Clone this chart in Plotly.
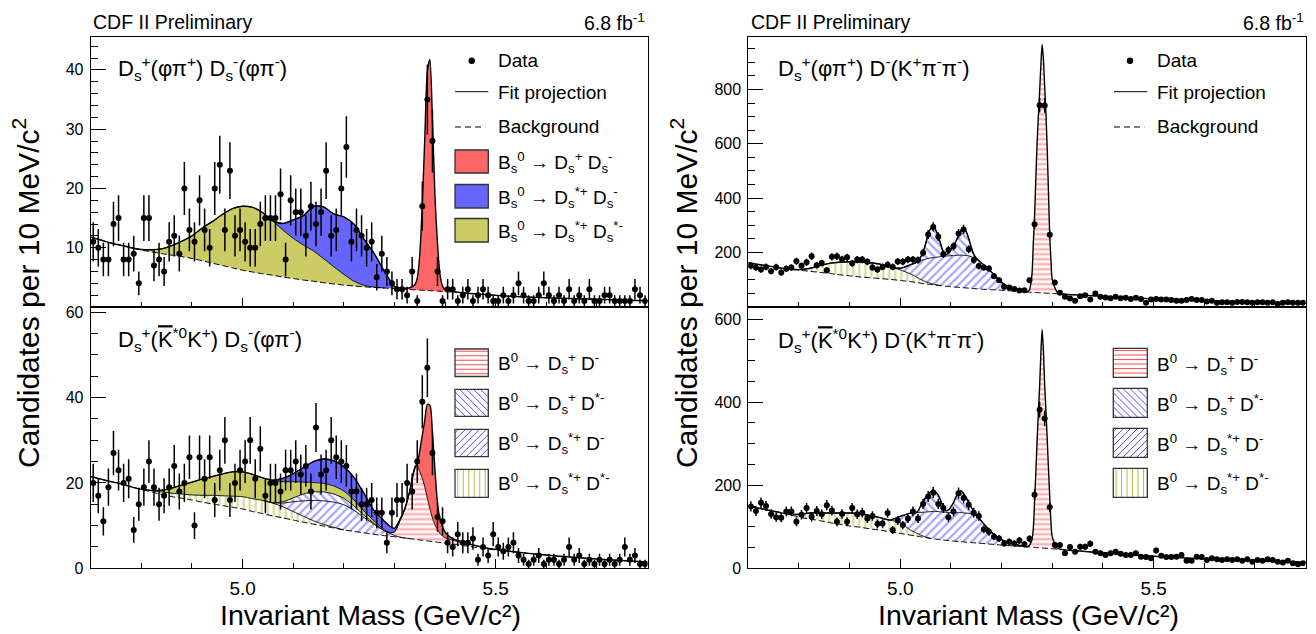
import numpy as np
import plotly.graph_objects as go

W, H = 1316, 634
FONT = "Liberation Sans, Arial, Helvetica, sans-serif"

# ---------------- histogram binning: 10 MeV/c^2 bins, 4.70 - 5.80 GeV/c^2 ----------------
bin_centers = np.round(np.arange(4.705, 5.80, 0.01), 3)

# ---------------- data: candidates per bin ----------------
counts_tl = [11, 10, 8, 8, 14, 15, 8, 8, 9, 4,
             15, 15, 7, 8, 6, 11, 12, 9, 20, 13,
             11, 18, 13, 10, 20, 24, 13, 23, 12, 13,
             11, 10, 10, 14, 15, 15, 15, 19, 8, 18,
             16, 16, 12, 17, 14, 16, 23, 12, 13, 20,
             27, 11, 13, 12, 10, 11, 5, 9, 6, 4,
             3, 3, 2, 6, 1, 17, 35, 28, 6, 1,
             3, 3, 1, 2, 3, 1, 2, 3, 2, 1,
             1, 2, 1, 2, 4, 2, 1, 1, 2, 4,
             2, 1, 2, 1, 3, 1, 2, 1, 3, 1,
             1, 2, 2, 1, 1, 1, 1, 3, 2, 1]
counts_bl = [20, 17, 11, 19, 27, 23, 20, 21, 9, 15,
             19, 25, 19, 15, 17, 19, 24, 18, 20, 26,
             10, 26, 21, 26, 16, 23, 30, 16, 20, 23,
             25, 30, 21, 28, 17, 20, 20, 18, 23, 23,
             25, 22, 24, 18, 33, 22, 23, 30, 26, 25,
             24, 18, 18, 15, 15, 16, 13, 13, 6, 13,
             16, 16, 20, 18, 25, 39, 47, 27, 12, 11,
             6, 5, 8, 6, 6, 7, 2, 5, 3, 8,
             5, 4, 5, 6, 3, 2, 1, 2, 3, 1,
             2, 2, 1, 2, 5, 2, 3, 1, 2, 1,
             2, 1, 2, 1, 2, 5, 2, 3, 1, 1]
counts_tr = [151, 145, 137, 147, 131, 146, 126, 140, 145, 168,
             151, 164, 186, 153, 161, 135, 184, 186, 175, 182,
             160, 174, 174, 166, 145, 137, 147, 155, 147, 167,
             166, 174, 174, 172, 199, 266, 294, 258, 194, 209,
             223, 270, 285, 212, 172, 150, 145, 141, 113, 98,
             74, 71, 66, 60, 61, 98, 304, 742, 741, 265,
             90, 52, 37, 31, 22, 39, 43, 27, 49, 37,
             34, 32, 37, 32, 33, 29, 33, 29, 15, 27,
             29, 27, 27, 25, 22, 22, 25, 29, 25, 25,
             20, 22, 15, 17, 17, 15, 18, 18, 17, 15,
             17, 17, 15, 17, 10, 15, 17, 15, 15, 15]
counts_br = [149, 138, 158, 150, 131, 123, 122, 137, 137, 112,
             129, 145, 124, 138, 130, 152, 139, 112, 131, 112,
             145, 130, 134, 120, 126, 107, 108, 133, 92, 115,
             104, 120, 137, 120, 155, 173, 182, 155, 145, 123,
             137, 181, 169, 153, 134, 126, 94, 88, 76, 72,
             60, 64, 60, 67, 58, 71, 177, 382, 361, 147,
             56, 56, 36, 51, 40, 52, 52, 59, 40, 36,
             32, 36, 40, 35, 32, 32, 36, 28, 27, 24,
             43, 30, 27, 27, 28, 32, 18, 18, 28, 27,
             20, 24, 22, 20, 22, 20, 22, 18, 22, 16,
             20, 18, 22, 20, 16, 14, 18, 12, 10, 12]

# ---------------- fit curves: sampling grids (GeV/c^2) ----------------
grid_tl = np.round(np.concatenate([np.arange(4.70, 5.301, 0.02), np.arange(5.31, 5.341, 0.01),
                                   np.arange(5.345, 5.3951, 0.005), np.arange(5.40, 5.421, 0.01),
                                   np.arange(5.44, 5.801, 0.04)]), 4)
grid_bl = np.round(np.concatenate([np.arange(4.70, 5.281, 0.02), np.arange(5.29, 5.331, 0.01),
                                   np.arange(5.335, 5.3951, 0.005), np.arange(5.40, 5.421, 0.01),
                                   np.arange(5.44, 5.801, 0.04)]), 4)
grid_r = np.round(np.concatenate([np.arange(4.70, 5.021, 0.02), np.arange(5.03, 5.1551, 0.005),
                                  np.arange(5.16, 5.241, 0.02), np.arange(5.25, 5.3001, 0.0025),
                                  np.arange(5.31, 5.321, 0.01), np.arange(5.36, 5.801, 0.04)]), 4)

# ---- top left: Ds(phi pi) Ds(phi pi) ----
bkg_tl = [11.8, 11.3, 10.8, 10.4, 10.0, 9.6, 9.3, 9.0, 8.75, 8.5, 8.2, 7.8, 7.4, 7.0, 6.6, 6.2,
          5.9, 5.6, 5.35, 5.05, 4.8, 4.55, 4.35, 4.1, 3.9, 3.7, 3.55, 3.4, 3.3, 3.2, 3.1,
          3.05, 3.0, 2.95, 2.9,
          2.88, 2.85, 2.83, 2.8, 2.78, 2.75, 2.73, 2.7, 2.68, 2.65, 2.62,
          2.6, 2.55, 2.5,
          2.35, 2.1, 1.85, 1.7, 1.55, 1.45, 1.35, 1.25, 1.15, 1.05]
tl_bs_dsst_dsst_from = 4.78
tl_bs_dsst_dsst = [0, 0.1, 0.35, 0.8, 1.6, 2.6, 3.8, 5.5, 7.0, 8.6, 10.0, 10.8, 10.9, 10.3, 9.1,
                   7.9, 6.8, 5.9, 5.1, 4.05, 2.9, 1.8, 0.8, 0.25, 0.05, 0]
tl_bs_dsst_ds_from = 5.04
tl_bs_dsst_ds = [0, 0.1, 1.15, 3.1, 4.95, 7.55, 8.75, 8.9, 9.7, 9.6, 7.75, 5.65, 2.8, 0.3, 0.05, 0]
tl_bs_ds_ds_from = 5.28
tl_bs_ds_ds = [0.05, 0.1, 0.1, 0.15, 0.3, 0.8, 2.0, 6.0, 14.5, 26.0, 37.0, 39.0, 29.0, 16.0, 8.0,
               2.8, 0.9, 0.35, 0.15, 0.05, 0]

# ---- bottom left: Ds(K*K) Ds(phi pi) ----
bkg_bl = [21.5, 20.9, 20.3, 19.8, 19.1, 18.5, 17.9, 17.3, 16.8, 16.4, 16.0, 15.5, 15.1, 14.7, 14.3,
          13.9, 13.3, 12.8, 12.25, 11.8, 11.3, 10.8, 10.35, 9.9, 9.45, 9.0, 8.65, 8.3, 7.95, 7.65,
          7.52, 7.4, 7.25, 7.1, 6.95,
          6.88, 6.8, 6.72, 6.65, 6.58, 6.5, 6.42, 6.35, 6.28, 6.2, 6.12, 6.05, 5.98,
          5.9, 5.75, 5.6,
          5.25, 4.6, 4.05, 3.55, 3.1, 2.7, 2.35, 2.0, 1.75, 1.5]
bl_b0_dsst_dst_from = 4.80
bl_b0_dsst_dst = [0, 0.3, 0.6, 0.8, 1.0, 1.2, 1.6, 2.0, 2.3, 2.6, 2.9, 3.0, 3.1, 3.0, 2.6, 2.0, 1.4,
                  0.8, 0.4, 0.15, 0]
bl_b0_dsst_d_from = 5.04
bl_b0_dsst_d = [0, 0.1, 0.9, 2.3, 3.6, 4.75, 5.5, 5.9, 5.9, 4.95, 3.6, 2.35, 1.15, 0.7, 0.3, 0.1,
                0.03, 0]
bl_b0_ds_dst_from = 5.06
bl_b0_ds_dst = [0, 0.3, 0.9, 1.6, 2.0, 2.1, 1.9, 1.5, 1.0, 0.5, 0.2, 0]
bl_b0_ds_d_from = 5.28
bl_b0_ds_d = [0, 0.1, 0.8, 3.5, 6.5, 11.0, 14.0, 16.5, 17.3, 16.0, 14.5, 12.5, 10.0, 7.6, 5.5, 4.0,
              2.9, 2.1, 1.6, 1.3, 1.0, 0.8, 0.6, 0.2, 0.05, 0]
bl_bs_dsst_dsst_from = 4.80
bl_bs_dsst_dsst = [0, 0.05, 0.4, 1.2, 2.1, 3.0, 3.8, 4.4, 5.1, 5.7, 5.8, 5.7, 5.3, 5.3, 4.7, 3.8,
                   2.8, 2.2, 2.0, 1.9, 1.7, 1.4, 1.0, 0.6, 0.25, 0.12, 0.05, 0]
bl_bs_dsst_ds_from = 5.06
bl_bs_dsst_ds = [0, 0.8, 1.9, 3.4, 4.9, 5.7, 5.9, 5.7, 5.3, 4.1, 2.4, 2.0, 1.5, 0.8, 0.4, 0.2,
                 0.08, 0.03, 0]
bl_bs_ds_ds_from = 5.33
bl_bs_ds_ds = [0, 0.1, 0.3, 0.6, 4.85, 10.1, 15.8, 22.0, 24.3, 20.0, 12.8, 6.2, 3.35, 2.2, 1.3,
               0.55, 0.3, 0.1, 0]

# ---- top right: Ds(phi pi) D(K pi pi) ----
bkg_tr = [162, 156, 150, 144, 139, 135, 131, 127, 123, 118, 114, 110, 107, 104, 101, 97, 93,
          90, 88.5, 87, 85.7, 84.5, 83.2, 82, 81, 80, 79, 78, 77, 76, 75, 74, 73.2, 72.5, 71.7,
          71, 70.2, 69.5, 68.7, 68, 67.2, 66.5, 65.7,
          65, 63, 61, 58.5, 56,
          54.5, 54.2, 53.9, 53.7, 53.4, 53.1, 52.9, 52.6, 52.3, 52.0, 51.8, 51.5, 51.2, 51.0,
          50.7, 50.4, 50.1, 49.9, 49.6, 49.3, 49.0,
          48, 47,
          43, 39, 35, 31, 28, 25, 22, 20, 18, 16.5, 15.5, 14.5]
tr_b0_dsst_dst_from = 4.78
tr_b0_dsst_dst = [0, 2, 10, 24, 37, 46, 52, 55, 55, 53, 46, 39, 28, 22, 18, 14, 11, 8, 6, 4, 2.5,
                  1.5, 0.7, 0]
tr_b0_dsst_d_from = 4.98
tr_b0_dsst_d = [0, 6, 34, 50, 59.5, 69, 76.3, 83.5, 88.8, 94, 97.5, 100.5, 103.8, 107, 109, 111,
                112.5, 114, 115.8, 117, 118.3, 119, 119.8, 119.5, 118.8, 117, 113.8, 110.5, 104.3,
                97, 65, 29, 8.5, 2, 0]
tr_b0_ds_dst_from = 5.03
tr_b0_ds_dst = [0, 5, 12, 30, 55, 90, 108, 115, 100, 77, 45, 15, 5, 10, 22, 35, 52, 72, 92, 102,
                88, 65, 35, 12, 2, 0]
tr_b0_ds_d_from = 5.25
tr_b0_ds_d = [0, 3, 9, 30, 68, 178, 278, 418, 548, 648, 738, 838, 914, 859, 759, 659, 530, 370,
              210, 120, 50, 5, 0]

# ---- bottom right: Ds(K*K) D(K pi pi) ----
bkg_br = [149, 145, 140, 135, 130, 123, 119, 115, 110, 106, 102, 99, 95, 92, 88, 84, 80,
          78, 77, 76, 75, 74, 73, 72, 71.2, 70.5, 69.8, 69, 68.2, 67.5, 66.8, 66, 65.5, 65, 64.5,
          64, 63.5, 63, 62.5, 62, 61.5, 61, 60.5,
          60, 58, 56, 54, 52.5,
          51.8, 51.6, 51.4, 51.2, 51.0, 50.75, 50.5, 50.25, 50.0, 49.75, 49.5, 49.25, 49.0,
          48.75, 48.5, 48.25, 48.0, 47.75, 47.5, 47.25, 47.0,
          46, 45,
          41, 37, 33.5, 30.5, 27.5, 25, 23, 21, 19, 17.5, 16, 14.5]
br_b0_dsst_dst_from = 4.78
br_b0_dsst_dst = [0, 7, 14, 18, 23, 27, 31, 32, 32, 30, 28, 26, 12, 8, 6, 4, 2.5, 1.5, 0.7, 0]
br_b0_dsst_d_from = 4.98
br_b0_dsst_d = [0, 15, 41, 47.5, 51, 54.5, 57.5, 60, 62.3, 64.5, 65.8, 66.5, 66.7, 67, 67.3,
                67.5, 67.7, 68, 68.5, 69, 69.5, 70, 70, 70, 70, 69.5, 67.5, 65, 60.5,
                54, 29, 13, 6, 1.5, 0]
br_b0_ds_dst_from = 5.03
br_b0_ds_dst = [0, 4, 15, 24, 35, 42, 48, 52, 47, 40, 26, 12, 4, 6, 14, 24, 38, 48, 53, 46, 38,
                26, 16, 8, 3, 0]
br_b0_ds_d_from = 5.25
br_b0_ds_d = [0, 1, 4, 10, 19, 44, 109, 179, 255, 325, 388, 468, 526, 476, 391, 331, 262, 192,
              123, 61, 28, 3, 0]

# ---------------- styles ----------------
RED, BLUE, YELLOW = "#ff6666", "#6666ff", "#cccc66"
HRED, HBLUE, HYELLOW = "#ff4d4d", "#4d4dff", "#b8b840"
SOLID_RED = dict(kind="solid", color=RED)
SOLID_BLUE = dict(kind="solid", color=BLUE)
SOLID_YELLOW = dict(kind="solid", color=YELLOW)
HATCH_RED = dict(kind="-", color=HRED, size=5, sol=0.42)
HATCH_BLUE_BS = dict(kind="\\", color=HBLUE, size=6, sol=0.38)
HATCH_BLUE_FS = dict(kind="/", color=HBLUE, size=6, sol=0.38)
HATCH_YELLOW = dict(kind="|", color=HYELLOW, size=6, sol=0.42)

panels = [
    dict(xa="x", ya="y", grid=grid_tl, bkg=bkg_tl, counts=counts_tl,
         comps=[(tl_bs_dsst_dsst_from, tl_bs_dsst_dsst, SOLID_YELLOW),
                (tl_bs_dsst_ds_from, tl_bs_dsst_ds, SOLID_BLUE),
                (tl_bs_ds_ds_from, tl_bs_ds_ds, SOLID_RED)]),
    dict(xa="x2", ya="y2", grid=grid_bl, bkg=bkg_bl, counts=counts_bl,
         comps=[(bl_b0_dsst_dst_from, bl_b0_dsst_dst, HATCH_YELLOW),
                (bl_b0_dsst_d_from, bl_b0_dsst_d, HATCH_BLUE_FS),
                (bl_b0_ds_dst_from, bl_b0_ds_dst, HATCH_BLUE_BS),
                (bl_b0_ds_d_from, bl_b0_ds_d, HATCH_RED),
                (bl_bs_dsst_dsst_from, bl_bs_dsst_dsst, SOLID_YELLOW),
                (bl_bs_dsst_ds_from, bl_bs_dsst_ds, SOLID_BLUE),
                (bl_bs_ds_ds_from, bl_bs_ds_ds, SOLID_RED)]),
    dict(xa="x3", ya="y3", grid=grid_r, bkg=bkg_tr, counts=counts_tr,
         comps=[(tr_b0_dsst_dst_from, tr_b0_dsst_dst, HATCH_YELLOW),
                (tr_b0_dsst_d_from, tr_b0_dsst_d, HATCH_BLUE_FS),
                (tr_b0_ds_dst_from, tr_b0_ds_dst, HATCH_BLUE_BS),
                (tr_b0_ds_d_from, tr_b0_ds_d, HATCH_RED)]),
    dict(xa="x4", ya="y4", grid=grid_r, bkg=bkg_br, counts=counts_br,
         comps=[(br_b0_dsst_dst_from, br_b0_dsst_dst, HATCH_YELLOW),
                (br_b0_dsst_d_from, br_b0_dsst_d, HATCH_BLUE_FS),
                (br_b0_ds_dst_from, br_b0_ds_dst, HATCH_BLUE_BS),
                (br_b0_ds_d_from, br_b0_ds_d, HATCH_RED)]),
]

SPL = dict(shape="spline", smoothing=0.7)
fig = go.Figure()

for p in panels:
    g = p["grid"]
    bkg = np.array(p["bkg"], dtype=float)
    assert len(bkg) == len(g), (p["xa"], len(bkg), len(g))
    ax = dict(xaxis=p["xa"], yaxis=p["ya"], showlegend=False, hoverinfo="skip")
    fig.add_trace(go.Scatter(x=g, y=bkg, mode="lines", line=dict(width=0, **SPL), **ax))
    level = bkg.copy()
    bounds = []
    for start, vals, sty in p["comps"]:
        i0 = int(np.argmin(np.abs(g - start)))
        comp = np.zeros(len(g))
        comp[i0:i0 + len(vals)] = vals
        level = level + comp
        if sty["kind"] == "solid":
            fill = dict(fillcolor=sty["color"])
        else:
            fill = dict(fillcolor="rgba(0,0,0,0)",
                        fillpattern=dict(shape=sty["kind"], fgcolor=sty["color"],
                                         bgcolor="rgba(0,0,0,0)", size=sty["size"],
                                         solidity=sty["sol"]))
        fig.add_trace(go.Scatter(x=g, y=level.copy(), mode="lines", fill="tonexty",
                                 line=dict(width=0, **SPL), **fill, **ax))
        bounds.append((i0, i0 + len(vals), level.copy()))
    # background (dashed)
    fig.add_trace(go.Scatter(x=g, y=bkg, mode="lines",
                             line=dict(color="black", width=1, dash="6px,3px", **SPL), **ax))
    # component boundaries
    for i0, i1, lev in bounds[:-1]:
        fig.add_trace(go.Scatter(x=g[i0:i1], y=lev[i0:i1], mode="lines",
                                 line=dict(color="black", width=0.9, **SPL), **ax))
    # fit projection
    fig.add_trace(go.Scatter(x=g, y=level, mode="lines",
                             line=dict(color="black", width=1.4, **SPL), **ax))
    # data
    c = np.array(p["counts"], dtype=float)
    fig.add_trace(go.Scatter(x=bin_centers, y=c, mode="markers",
                             marker=dict(color="black", size=6),
                             error_y=dict(type="data", array=np.sqrt(c), visible=True,
                                          color="black", thickness=1.5, width=0), **ax))

# ---------------- axes ----------------
def px_x(x):
    return x / W


def px_y(y):
    return 1 - y / H


XL = [px_x(90.7), px_x(647.6)]
XR = [px_x(748.3), px_x(1305.6)]
YT = [px_y(306.7), px_y(36.7)]
YB = [px_y(568.3), px_y(306.7)]

base = dict(showline=True, mirror=True, linecolor="black", linewidth=1, ticks="inside",
            tickcolor="black", showgrid=False, zeroline=False, automargin=False,
            tickfont=dict(family=FONT, size=16, color="black"))


def xax(dom, anchor, labels):
    d = dict(base, domain=dom, anchor=anchor, range=[4.70, 5.80], tick0=5.0, dtick=0.5,
             ticklen=9, tickformat=".1f", showticklabels=labels, ticklabelstandoff=3,
             minor=dict(ticks="inside", ticklen=5, tick0=4.7, dtick=0.1, tickcolor="black",
                        showgrid=False))
    d["tickfont"] = dict(family=FONT, size=19, color="black")
    return d


def yax(dom, anchor, rng, dt, mdt):
    return dict(base, domain=dom, anchor=anchor, range=rng, tick0=0, dtick=dt, ticklen=15,
                ticklabelstandoff=3,
                minor=dict(ticks="inside", ticklen=7, tick0=0, dtick=mdt, tickcolor="black",
                           showgrid=False))


layout = dict(
    width=W, height=H, margin=dict(l=0, r=0, t=0, b=0), paper_bgcolor="white",
    plot_bgcolor="white", showlegend=False, font=dict(family=FONT, color="black"),
    xaxis=xax(XL, "y", False), yaxis=yax(YT, "x", [0.05, 45.6], 10, 2),
    xaxis2=xax(XL, "y2", True), yaxis2=yax(YB, "x2", [0, 61.3], 20, 5),
    xaxis3=xax(XR, "y3", False), yaxis3=yax(YT, "x3", [0.5, 994], 200, 50),
    xaxis4=xax(XR, "y4", True), yaxis4=yax(YB, "x4", [0, 630], 200, 50),
)

# ---------------- text ----------------
ann = []


def text(x, y, s, size, xanchor="left", angle=0):
    ann.append(dict(x=px_x(x), y=px_y(y), xref="paper", yref="paper", text=s, showarrow=False,
                    xanchor=xanchor, yanchor="middle", textangle=angle,
                    font=dict(family=FONT, size=size, color="black")))


for x0, x1 in [(91, 647), (749, 1306)]:
    text(x0, 22, "CDF II Preliminary", 19.5)
    text(x1, 22, "6.8 fb<sup>-1</sup>", 19.5, "right")

KBAR = '<span style="text-decoration:overline">K</span>'
text(116, 68.5, "D<sub>s</sub><sup>+</sup>(φπ<sup>+</sup>) D<sub>s</sub><sup>-</sup>(φπ<sup>-</sup>)", 22)
text(116, 339.5, "D<sub>s</sub><sup>+</sup>(" + KBAR + "<sup>*0</sup>K<sup>+</sup>) D<sub>s</sub><sup>-</sup>(φπ<sup>-</sup>)", 22)
text(776, 68.5, "D<sub>s</sub><sup>+</sup>(φπ<sup>+</sup>) D<sup>-</sup>(K<sup>+</sup>π<sup>-</sup>π<sup>-</sup>)", 22)
text(776, 340, "D<sub>s</sub><sup>+</sup>(" + KBAR + "<sup>*0</sup>K<sup>+</sup>) D<sup>-</sup>(K<sup>+</sup>π<sup>-</sup>π<sup>-</sup>)", 22)

for xc in (26, 684):
    text(xc, 293, "Candidates per 10 MeV/c<sup>2</sup>", 30, "center", -90)
for xc in (370, 1028):
    text(xc, 615, "Invariant Mass (GeV/c²)", 28.5, "center")

# ---------------- legends (drawn as boxes + text) ----------------
shapes = []
LEG_FONT = 19


def hatch_path(x0, y0, x1, y1, kind, step):
    segs = []
    if kind == "-":
        for y in np.arange(y0 + step / 2, y1, step):
            segs.append(((x0, y), (x1, y)))
    elif kind == "|":
        for x in np.arange(x0 + step / 2, x1, step):
            segs.append(((x, y0), (x, y1)))
    elif kind == "/":
        for c in np.arange(x0 + y0 + step / 2, x1 + y1, step):
            xa, xb = max(x0, c - y1), min(x1, c - y0)
            if xb > xa:
                segs.append(((xa, c - xa), (xb, c - xb)))
    else:
        for c in np.arange(x0 - y1 + step / 2, x1 - y0, step):
            xa, xb = max(x0, y0 + c), min(x1, y1 + c)
            if xb > xa:
                segs.append(((xa, xa - c), (xb, xb - c)))
    return " ".join(f"M {px_x(a[0]):.5f},{px_y(a[1]):.5f} L {px_x(b[0]):.5f},{px_y(b[1]):.5f}"
                    for a, b in segs)


def legend_box(x0, y0, x1, y1, sty):
    if sty["kind"] == "solid":
        shapes.append(dict(type="rect", xref="paper", yref="paper", x0=px_x(x0), x1=px_x(x1),
                           y0=px_y(y1), y1=px_y(y0), fillcolor=sty["color"],
                           line=dict(color="#333333", width=1.3)))
    else:
        shapes.append(dict(type="rect", xref="paper", yref="paper", x0=px_x(x0), x1=px_x(x1),
                           y0=px_y(y1), y1=px_y(y0), fillcolor="white", line=dict(width=0)))
        step = {"-": 4.5, "|": 5.5, "/": 7, "\\": 7}[sty["kind"]]
        shapes.append(dict(type="path", xref="paper", yref="paper",
                           path=hatch_path(x0, y0, x1, y1, sty["kind"], step),
                           line=dict(color=sty["color"], width=1)))
        shapes.append(dict(type="rect", xref="paper", yref="paper", x0=px_x(x0), x1=px_x(x1),
                           y0=px_y(y1), y1=px_y(y0), line=dict(color="#333333", width=1.3)))


def legend_top(xline0, xline1, xdot, xtext):
    shapes.append(dict(type="circle", xref="paper", yref="paper", x0=px_x(xdot - 3.2),
                       x1=px_x(xdot + 3.2), y0=px_y(60.7 + 3.2), y1=px_y(60.7 - 3.2),
                       fillcolor="black", line=dict(width=0)))
    text(xtext, 61, "Data", LEG_FONT)
    shapes.append(dict(type="line", xref="paper", yref="paper", x0=px_x(xline0), x1=px_x(xline1),
                       y0=px_y(91.7), y1=px_y(91.7), line=dict(color="black", width=1)))
    text(xtext, 92.6, "Fit projection", LEG_FONT)
    shapes.append(dict(type="line", xref="paper", yref="paper", x0=px_x(xline0),
                       x1=px_x(xline1 - 3), y0=px_y(127), y1=px_y(127),
                       line=dict(color="black", width=1, dash="6px,4px")))
    text(xtext, 126.5, "Background", LEG_FONT)


legend_top(455, 488.3, 471.7, 496)
legend_top(1114, 1147.3, 1130, 1155)

bs_labels = ["B<sub>s</sub><sup>0</sup> → D<sub>s</sub><sup>+</sup> D<sub>s</sub><sup>-</sup>",
             "B<sub>s</sub><sup>0</sup> → D<sub>s</sub><sup>*+</sup> D<sub>s</sub><sup>-</sup>",
             "B<sub>s</sub><sup>0</sup> → D<sub>s</sub><sup>*+</sup> D<sub>s</sub><sup>*-</sup>"]
b0_labels = ["B<sup>0</sup> → D<sub>s</sub><sup>+</sup> D<sup>-</sup>",
             "B<sup>0</sup> → D<sub>s</sub><sup>+</sup> D<sup>*-</sup>",
             "B<sup>0</sup> → D<sub>s</sub><sup>*+</sup> D<sup>-</sup>",
             "B<sup>0</sup> → D<sub>s</sub><sup>*+</sup> D<sup>*-</sup>"]

for (y0, y1, ty), lab, sty in zip([(150, 173, 162.6), (184.5, 208, 197.6), (218.5, 242, 231.6)],
                                  bs_labels, [SOLID_RED, SOLID_BLUE, SOLID_YELLOW]):
    legend_box(455, y0, 488.3, y1, sty)
    text(496, ty, lab, LEG_FONT)

b0_styles = [HATCH_RED, HATCH_BLUE_BS, HATCH_BLUE_FS, HATCH_YELLOW]
for (y0, y1, ty), lab, sty in zip([(349, 376.5, 363.6), (389.3, 416.3, 403.6),
                                   (429.3, 456.7, 443.6), (469.3, 497.3, 483.6)],
                                  b0_labels, b0_styles):
    legend_box(455, y0, 488.3, y1, sty)
    text(496, ty, lab, LEG_FONT)

for (y0, y1, ty), lab, sty in zip([(348.3, 377.3, 364.3), (388.3, 417.3, 404.3),
                                   (428.3, 457.3, 444.3), (468.3, 497.3, 483.6)],
                                  b0_labels, b0_styles):
    legend_box(1113.3, y0, 1147.3, y1, sty)
    text(1155, ty, lab, LEG_FONT)

layout["annotations"] = ann
layout["shapes"] = shapes
fig.update_layout(**layout)
fig.write_html("out.html", config={"displayModeBar": False},
               post_script="document.body.style.margin='0px';"
                           "document.body.style.overflow='hidden';")
